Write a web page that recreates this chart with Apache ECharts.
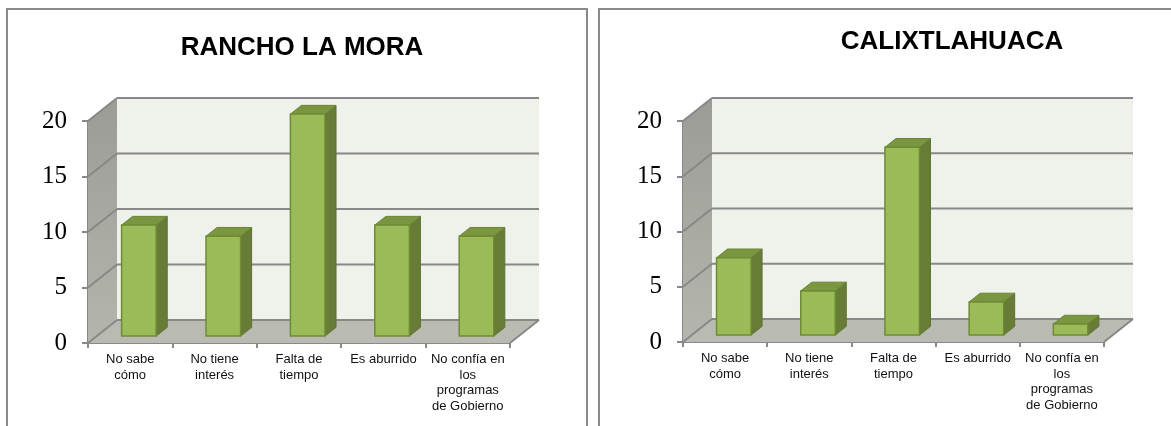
<!DOCTYPE html>
<html>
<head>
<meta charset="utf-8">
<script src="https://cdn.jsdelivr.net/npm/echarts@6/dist/echarts.min.js"></script>
<style>
  html, body { margin: 0; padding: 0; background: #fff; }
  #main { width: 1171px; height: 426px; }
</style>
</head>
<body>
<div id="main"></div>
<script>
// categorías y valores
var categories = ['No sabe\ncómo', 'No tiene\ninterés', 'Falta de\ntiempo', 'Es aburrido', 'No confía en\nlos\nprogramas\nde Gobierno'];
var ranchoValues = [10, 9, 20, 10, 9];
var calixValues = [7, 4, 17, 3, 1];
var yTicks = [0, 5, 10, 15, 20];
var titles = ['RANCHO LA MORA', 'CALIXTLAHUACA'];

// profundidad del efecto 3D (px)
var DX = 29, DY = -23;
var F1 = 0.3, F2 = 0.68; // posición de las barras en la profundidad

function edges(api) {
  var bw = api.size([1, 0])[0];
  var x0 = api.coord([0, 0])[0] - bw / 2;
  var x1 = api.coord([categories.length - 1, 0])[0] + bw / 2;
  return { x0: x0, x1: x1, bw: bw };
}

function wallsItem(params, api) {
  var e = edges(api);
  var y0 = api.coord([0, 0])[1];
  var yT = api.coord([0, 20])[1];
  return {
    type: 'group',
    children: [
      {
        type: 'polygon',
        shape: { points: [[e.x0 + DX, yT + DY], [e.x1 + DX, yT + DY], [e.x1 + DX, y0 + DY], [e.x0 + DX, y0 + DY]] },
        style: { fill: '#eff1eb' }
      },
      {
        type: 'polygon',
        shape: { points: [[e.x0, y0], [e.x0, yT], [e.x0 + DX, yT + DY], [e.x0 + DX, y0 + DY]] },
        style: {
          fill: new echarts.graphic.LinearGradient(0, 0, 0, 1, [
            { offset: 0, color: '#9a9c95' },
            { offset: 1, color: '#b4b6ae' }
          ])
        }
      },
      {
        type: 'polygon',
        shape: { points: [[e.x0, y0], [e.x1, y0], [e.x1 + DX, y0 + DY], [e.x0 + DX, y0 + DY]] },
        style: { fill: '#b9bbb3' }
      },
      {
        type: 'line',
        shape: { x1: e.x1, y1: y0, x2: e.x1 + DX, y2: y0 + DY },
        style: { stroke: '#888888', lineWidth: 2 }
      }
    ]
  };
}

function gridItem(params, api) {
  var e = edges(api);
  var y = api.coord([0, api.value(1)])[1];
  return {
    type: 'group',
    children: [
      {
        type: 'line',
        shape: { x1: e.x0 + DX, y1: y + DY, x2: e.x1 + DX, y2: y + DY },
        style: { stroke: '#888888', lineWidth: 2 }
      },
      {
        type: 'line',
        shape: { x1: e.x0, y1: y, x2: e.x0 + DX, y2: y + DY },
        style: { stroke: '#888888', lineWidth: 2 }
      }
    ]
  };
}

function barItem(params, api) {
  var e = edges(api);
  var i = api.value(0);
  var base = api.coord([i, 0]);
  var top = api.coord([i, api.value(1)]);
  var w = e.bw * 0.41;
  var ox = F1 * DX, oy = F1 * DY;
  var dx = (F2 - F1) * DX, dy = (F2 - F1) * DY;
  var l = base[0] - w / 2 + ox, r = base[0] + w / 2 + ox;
  var b = base[1] + oy, t = top[1] + oy;
  return {
    type: 'group',
    children: [
      {
        type: 'polygon',
        shape: { points: [[r, b], [r, t], [r + dx, t + dy], [r + dx, b + dy]] },
        style: { fill: '#677d37', stroke: '#5e7331', lineWidth: 1 }
      },
      {
        type: 'polygon',
        shape: { points: [[l, t], [r, t], [r + dx, t + dy], [l + dx, t + dy]] },
        style: { fill: '#7a9641', stroke: '#6b8536', lineWidth: 1 }
      },
      {
        type: 'rect',
        shape: { x: l, y: t, width: r - l, height: b - t },
        style: { fill: '#9bbb59', stroke: '#6f8c33', lineWidth: 1.5 }
      }
    ]
  };
}

var grids = [
  { left: 88, top: 121, width: 422, height: 222 },
  { left: 683, top: 121, width: 421, height: 221 }
];

var titleFont = { fontFamily: 'Liberation Sans', fontWeight: 'bold', fontSize: 26, color: '#000' };

var option = {
  animation: false,
  title: [
    { text: titles[0], left: 297, top: 30, textAlign: 'center', textStyle: titleFont },
    { text: titles[1], left: 947, top: 24, textAlign: 'center', textStyle: titleFont }
  ],
  graphic: [
    { type: 'rect', shape: { x: 7, y: 9, width: 580, height: 430 }, style: { fill: 'none', stroke: '#8a8a8a', lineWidth: 2 } },
    { type: 'rect', shape: { x: 599, y: 9, width: 590, height: 430 }, style: { fill: 'none', stroke: '#8a8a8a', lineWidth: 2 } }
  ],
  grid: grids,
  xAxis: grids.map(function (g, k) {
    return {
      type: 'category', gridIndex: k, data: categories,
      axisLine: { lineStyle: { color: '#888888', width: 2 } },
      axisTick: { show: true, length: 5, lineStyle: { color: '#888888', width: 2 } },
      axisLabel: { interval: 0, margin: 9, fontFamily: 'Liberation Sans', fontSize: 13, lineHeight: 15.5, color: '#111' },
      splitLine: { show: false }
    };
  }),
  yAxis: grids.map(function (g, k) {
    return {
      type: 'value', gridIndex: k, min: 0, max: 20, interval: 5,
      axisLine: { show: true, lineStyle: { color: '#888888', width: 2 } },
      axisTick: { show: true, length: 6, lineStyle: { color: '#888888', width: 2 } },
      axisLabel: { margin: 21, fontFamily: 'Liberation Serif', fontSize: 25, color: '#000' },
      splitLine: { show: false }
    };
  }),
  series: []
};

[ranchoValues, calixValues].forEach(function (vals, k) {
  option.series.push({
    type: 'custom', xAxisIndex: k, yAxisIndex: k, z: 1, silent: true,
    renderItem: wallsItem, data: [[0, 0]]
  });
  option.series.push({
    type: 'custom', xAxisIndex: k, yAxisIndex: k, z: 2, silent: true,
    renderItem: gridItem, data: yTicks.map(function (v) { return [0, v]; })
  });
  option.series.push({
    type: 'custom', xAxisIndex: k, yAxisIndex: k, z: 3, silent: true,
    renderItem: barItem, data: vals.map(function (v, i) { return [i, v]; })
  });
});

var chart = echarts.init(document.getElementById('main'));
chart.setOption(option);
</script>
</body>
</html>
